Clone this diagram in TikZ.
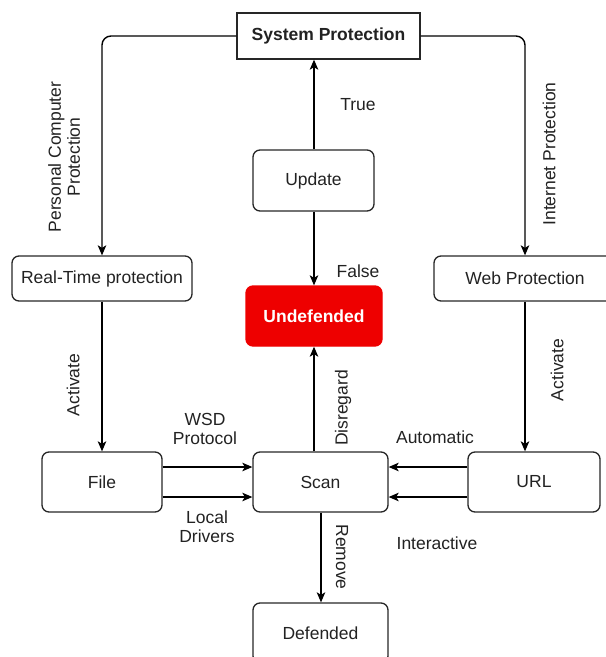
\documentclass[tikz,border=0pt]{standalone}
\usepackage{fontspec}
\setmainfont{Liberation Sans}
\usetikzlibrary{arrows.meta,calc}
\definecolor{txt}{HTML}{222222}
\definecolor{alarm}{HTML}{EE0000}
\begin{document}
\begin{tikzpicture}[x=1pt,y=-1pt,
  font=\fontsize{17.5}{20}\selectfont,
  box/.style={draw=black!85,line width=1.3pt,rounded corners=7pt,text=txt,
    inner sep=0pt,align=center},
  link/.style={line width=1.4pt,-{Stealth[length=10pt,width=8.5pt,inset=2.5pt]}},
  lbl/.style={text=txt,inner sep=0pt,align=center,font=\fontsize{17.5}{19}\selectfont}]
\useasboundingbox (0,0) rectangle (606,657);

% boxes
\node[box,rounded corners=0pt,minimum width=183pt,minimum height=46pt,font=\fontsize{17.5}{20}\selectfont\bfseries] (sys) at (328.5,36) {System Protection};
\node[box,minimum width=121pt,minimum height=61pt] (upd) at (313.5,180.5) {Update};
\node[box,minimum width=180pt,minimum height=45pt] (rt) at (102,278.5) {Real-Time protection};
\node[box,minimum width=182pt,minimum height=45pt] (web) at (525,278.5) {Web Protection};
\node[box,draw=alarm,fill=alarm,text=white,minimum width=136pt,minimum height=60pt,font=\fontsize{17.5}{20}\selectfont\bfseries] (und) at (314,316) {Undefended};
\node[box,minimum width=120pt,minimum height=60pt] (file) at (102,482) {File};
\node[box,minimum width=135pt,minimum height=60pt] (scan) at (320.5,482) {Scan};
\node[box,minimum width=132pt,minimum height=60pt] (url) at (534,482) {URL};
\node[box,minimum width=135pt,minimum height=60pt] (def) at (320.5,633) {Defended};

% connectors
\draw[link,rounded corners=9pt] (sys.west) -| (rt.north);
\draw[link,rounded corners=9pt] (sys.east) -| (web.north);
\draw[link] (upd.north -| und) -- (sys.south -| und);
\draw[link] (upd.south -| und) -- (und.north);
\draw[link] (rt.south) -- (file.north);
\draw[link] (web.south) -- (web.south |- url.north);
\draw[link] ([yshift=15pt]file.east) -- ([yshift=15pt]scan.west);
\draw[link] ([yshift=-15pt]file.east) -- ([yshift=-15pt]scan.west);
\draw[link] ([yshift=15pt]url.west) -- ([yshift=15pt]scan.east);
\draw[link] ([yshift=-15pt]url.west) -- ([yshift=-15pt]scan.east);
\draw[link] (scan.north -| und) -- (und.south);
\draw[link] ([xshift=0.5pt]scan.south) -- ([xshift=0.5pt]def.north);

% labels
\node[lbl] (lTrue) at (358,105) {True};
\node[lbl] (lFalse) at (358,271) {False};
\node[lbl,rotate=90] (lPc) at (64,157) {Personal Computer\\Protection};
\node[lbl,rotate=90] (lNet) at (549,154) {Internet Protection};
\node[lbl,rotate=90] (lActL) at (73,385) {Activate};
\node[lbl,rotate=90] (lActR) at (557,370) {Activate};
\node[lbl] (lWsd) at (205,429) {WSD\\Protocol};
\node[lbl] (lLoc) at (207,527) {Local\\Drivers};
\node[lbl,rotate=90] (lDis) at (343,408) {Disregard};
\node[lbl,rotate=-90] (lRem) at (342,557) {Remove};
\node[lbl] (lAuto) at (435,437) {Automatic};
\node[lbl] (lInt) at (437,543) {Interactive};
\end{tikzpicture}
\end{document}
